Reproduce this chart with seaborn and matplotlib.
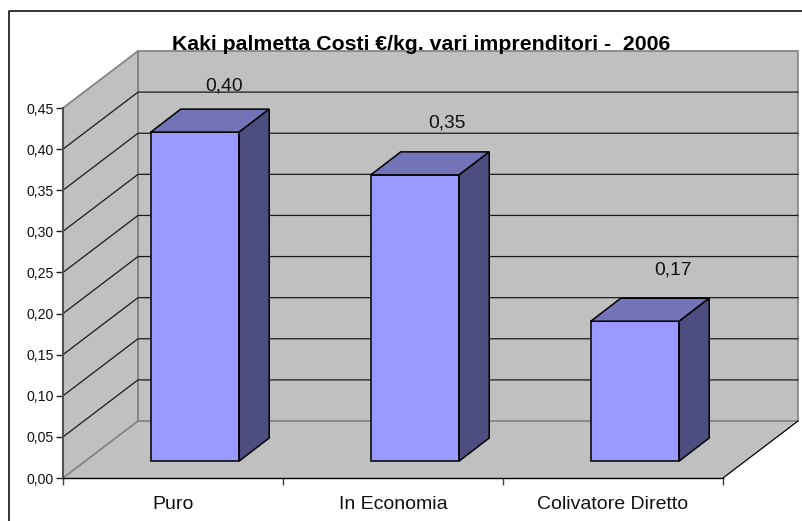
import matplotlib
matplotlib.use("Agg")
import matplotlib.pyplot as plt
import numpy as np
import seaborn as sns
from matplotlib.lines import Line2D

categories = ["Puro", "In Economia", "Colivatore Diretto"]
values = [0.40, 0.348, 0.17]
value_labels = ["0,40", "0,35", "0,17"]
y_ticks = [0.00, 0.05, 0.10, 0.15, 0.20, 0.25, 0.30, 0.35, 0.40, 0.45]
y_tick_labels = ["0,00", "0,05", "0,10", "0,15", "0,20", "0,25", "0,30", "0,35", "0,40", "0,45"]
title = "Kaki palmetta Costi €/kg. vari imprenditori -  2006"

sns.set_theme(style="white")
plt.rcParams["font.family"] = ["Liberation Sans", "DejaVu Sans"]

W, H = 803, 521
fig = plt.figure(figsize=(W / 100, H / 100), dpi=100)
ax = fig.add_axes([63 / W, (H - 478) / H, 660 / W, 370 / H])
ax.patch.set_visible(False)

# size of one pixel in data units
px_x = 3 / 660
px_y = 0.45 / 370

# depth of the box and of the bars
wall_dx, wall_dy = 75 * px_x, 57 * px_y
bar_dx, bar_dy = 30 * px_x, 23 * px_y
front_dx, front_dy = 22 * px_x, 17 * px_y

wall = "#c0c0c0"
edge = "#808080"
x0, x1 = -0.5, 2.5
top = y_ticks[-1]

# bars first so the patches list holds only them
sns.barplot(x=categories, y=values, width=0.402, color="#9999ff", saturation=1,
            bottom=front_dy, edgecolor="black", linewidth=1.1, ax=ax, zorder=3)
bars = list(ax.patches)

# floor and walls
ax.fill([x0, x1, x1 + wall_dx, x0 + wall_dx], [0, 0, wall_dy, wall_dy],
        color=wall, ec="none", clip_on=False, zorder=0)
ax.fill([x0, x0 + wall_dx, x0 + wall_dx, x0], [0, wall_dy, top + wall_dy, top],
        fc=wall, ec=edge, lw=1.2, clip_on=False, zorder=0)
ax.fill([x0 + wall_dx, x1 + wall_dx, x1 + wall_dx, x0 + wall_dx],
        [wall_dy, wall_dy, top + wall_dy, top + wall_dy],
        fc=wall, ec=edge, lw=1.2, clip_on=False, zorder=0)
ax.plot([x1, x1 + wall_dx], [0, wall_dy], color="black", lw=0.9, clip_on=False, zorder=1)

# grid on both walls
for t in y_ticks[1:-1]:
    ax.plot([x0, x0 + wall_dx, x1 + wall_dx], [t, t + wall_dy, t + wall_dy],
            color="#1a1a1a", lw=0.9, clip_on=False, zorder=1)

# label shifts in pixels, the labels were moved by hand in the original
label_dx = [-1, 2, 8]
label_gaps = [23, 28.5, 28.5]
for patch, lab, dx, gap in zip(bars, value_labels, label_dx, label_gaps):
    patch.set_x(patch.get_x() + front_dx)
    patch.set_zorder(3)
    patch.set_clip_on(False)
    xa, xb = patch.get_x(), patch.get_x() + patch.get_width()
    yb = patch.get_y()
    yt = yb + patch.get_height()
    ax.fill([xa, xb, xb + bar_dx, xa + bar_dx], [yt, yt, yt + bar_dy, yt + bar_dy],
            fc="#7373b8", ec="black", lw=1.1, clip_on=False, zorder=3)
    ax.fill([xb, xb + bar_dx, xb + bar_dx, xb], [yb, yb + bar_dy, yt + bar_dy, yt],
            fc="#4d4d80", ec="black", lw=1.1, clip_on=False, zorder=3)
    ax.text((xa + xb) / 2 + bar_dx + dx * px_x, yt + bar_dy + gap * px_y, lab, ha="center", va="center",
            fontsize=13.9, color="#111111", zorder=5)

ax.set_xlim(x0, x1)
ax.set_ylim(0, top)
ax.set_yticks(y_ticks)
ax.set_yticklabels(y_tick_labels, fontsize=10.2, color="#111111")
ax.set_xticks(np.arange(x0, x1 + 0.5), minor=True)
ax.tick_params(axis="x", which="major", length=0, labelsize=14, labelcolor="#111111", pad=13)
ax.tick_params(axis="x", which="minor", length=5, width=1, color="#404040", direction="out", bottom=True)
ax.tick_params(axis="y", length=5, width=1, color="#202020", left=True, pad=1.5)

sns.despine(ax=ax, top=True, right=True)
ax.spines["left"].set_color("#505050")
ax.spines["left"].set_linewidth(1.5)
ax.spines["bottom"].set_color("black")
ax.spines["bottom"].set_linewidth(1)
for s in ax.spines.values():
    s.set_zorder(2)

fig.text(421 / W, 1 - 50.5 / H, title, ha="center", va="baseline", fontsize=15.3, fontweight="bold",
         color="black", zorder=6)

# chart frame, open to the right and below
fig.add_artist(Line2D([9.5 / W, 9.5 / W, 1], [0, 1 - 10.5 / H, 1 - 10.5 / H], color="black", lw=1.1))

fig.savefig("out.png", dpi=100)
